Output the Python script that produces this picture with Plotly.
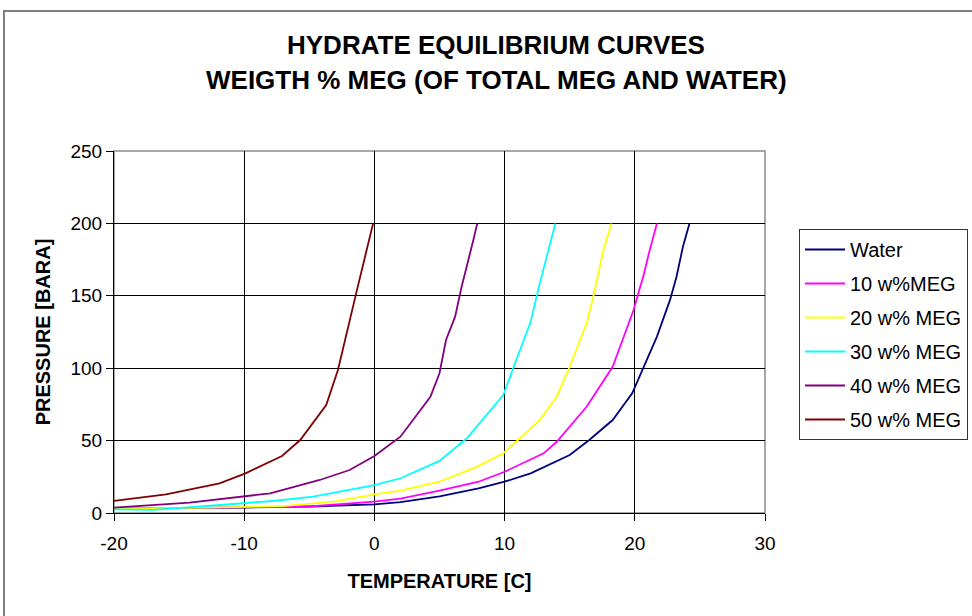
import plotly.graph_objects as go

# ---- data ----
water_T = [-20, -15, -10, -5, 0, 2, 5, 8, 10, 12, 15, 16.5, 18.3, 19.8, 20.7, 21.7, 22.7, 23.2, 23.7, 24.2]
water_P = [3, 3.3, 3.7, 4.5, 6, 7.5, 11.5, 17, 21.6, 27.4, 40, 50.4, 64.2, 82.7, 101, 121.8, 147, 163, 184, 200]

meg10_T = [-20, -10, -5, 0, 2, 5, 8, 10, 13, 14, 16.3, 18.3, 19.9, 20.7, 21.1, 21.7]
meg10_P = [3, 3.8, 4.5, 7.8, 10, 15.5, 21.6, 28.5, 41.2, 49.2, 73.4, 101, 140, 165, 180, 200]

meg20_T = [-20, -12.6, -7, -3, 0, 2, 5, 7.9, 9.9, 10.9, 12.7, 14, 15, 16.3, 16.8, 17.6, 18.2]
meg20_P = [3, 3.7, 4.8, 8, 12.9, 15.5, 21.6, 32, 41.2, 49.2, 64.2, 80.3, 101, 131, 149, 182, 200]

meg30_T = [-20, -17, -12.6, -7.8, -4.7, -2, 0, 2, 5, 7.1, 9.9, 10.7, 12, 12.7, 13.3, 13.9]
meg30_P = [2.5, 2.2, 5, 8.3, 11.3, 16, 19.3, 24, 36, 51.6, 81.5, 101, 132, 158.6, 180, 200]

meg40_T = [-20, -14.2, -8, -4.2, -1.9, 0, 2, 4.3, 5, 5.5, 6.2, 6.7, 7.6, 7.9]
meg40_P = [3.7, 7.1, 13.6, 22.8, 29.7, 39.4, 52.7, 80.3, 96.5, 119.5, 135.6, 156.3, 188.5, 200]

meg50_T = [-20, -16, -11.9, -9.9, -7.1, -5.7, -3.7, -2.8, -1.4, -0.1]
meg50_P = [8.3, 12.9, 20.5, 27.4, 39.4, 50.4, 74.6, 98.8, 151.7, 200]

series_names = ["Water", "10 w%MEG", "20 w% MEG", "30 w% MEG", "40 w% MEG", "50 w% MEG"]
series_colors = ["#000080", "#FF00FF", "#FFFF00", "#00FFFF", "#800080", "#800000"]
series_T = [water_T, meg10_T, meg20_T, meg30_T, meg40_T, meg50_T]
series_P = [water_P, meg10_P, meg20_P, meg30_P, meg40_P, meg50_P]

x_ticks = [-20, -10, 0, 10, 20, 30]
y_ticks = [0, 50, 100, 150, 200, 250]

FONT = "Liberation Sans, Arial, sans-serif"

fig = go.Figure()
for i, (name, col, T, P) in enumerate(zip(series_names, series_colors, series_T, series_P)):
    fig.add_trace(go.Scatter(
        x=T, y=P, mode="lines", name=name,
        line=dict(color=col, width=1.8),
        legendgroup=f"g{i}",
    ))

W, H = 972, 616
L, R, T0, B = 114, 207, 151, 103
pw, ph = W - L - R, H - T0 - B

def px2paper_x(px):
    return (px - L) / pw

def px2paper_y(py):
    return (H - B - py) / ph

# outer chart frame
fig.add_shape(type="rect", xref="paper", yref="paper",
              x0=px2paper_x(4), x1=px2paper_x(990), y0=px2paper_y(640), y1=px2paper_y(11),
              line=dict(color="#7f7f7f", width=2), layer="below")
# plot area border (top/right gray)
fig.add_shape(type="rect", xref="paper", yref="paper", x0=0, x1=1, y0=0, y1=1,
              line=dict(color="#8a8a8a", width=1.5), layer="below")

# title lines
fig.add_annotation(text="<b>HYDRATE EQUILIBRIUM CURVES</b>", xref="paper", yref="paper",
                   x=px2paper_x(496), y=px2paper_y(45), showarrow=False,
                   font=dict(family=FONT, size=26, color="black"), xanchor="center", yanchor="middle")
fig.add_annotation(text="<b>WEIGTH % MEG (OF TOTAL MEG AND WATER)</b>", xref="paper", yref="paper",
                   x=px2paper_x(496), y=px2paper_y(80), showarrow=False,
                   font=dict(family=FONT, size=26, color="black"), xanchor="center", yanchor="middle")

fig.update_layout(
    width=W, height=H,
    margin=dict(l=L, r=R, t=T0, b=B, autoexpand=False),
    paper_bgcolor="white", plot_bgcolor="white",
    font=dict(family=FONT, size=18, color="black"),
    showlegend=True,
    legend=dict(
        x=px2paper_x(799), y=px2paper_y(229), xanchor="left", yanchor="top",
        bordercolor="#333333", borderwidth=1, bgcolor="white",
        font=dict(family=FONT, size=20, color="black"),
        tracegroupgap=5, traceorder="grouped", itemwidth=40,
    ),
    xaxis=dict(
        range=[-20, 30], tickvals=x_ticks, ticktext=[str(v) for v in x_ticks],
        showgrid=True, gridcolor="black", gridwidth=1,
        zeroline=False, showline=True, linecolor="black", linewidth=1,
        ticks="outside", ticklen=7, tickcolor="black",
        tickfont=dict(size=19), ticklabelstandoff=6,
        title=dict(text="<b>TEMPERATURE [C]</b>", font=dict(size=20), standoff=21),
    ),
    yaxis=dict(
        range=[0, 250], tickvals=y_ticks, ticktext=[str(v) for v in y_ticks],
        showgrid=True, gridcolor="black", gridwidth=1,
        zeroline=False, showline=True, linecolor="black", linewidth=1,
        ticks="outside", ticklen=7, tickcolor="black",
        tickfont=dict(size=19),
        title=dict(text="<b>PRESSURE [BARA]</b>", font=dict(size=20), standoff=14),
    ),
)

fig.write_html("out.html")
